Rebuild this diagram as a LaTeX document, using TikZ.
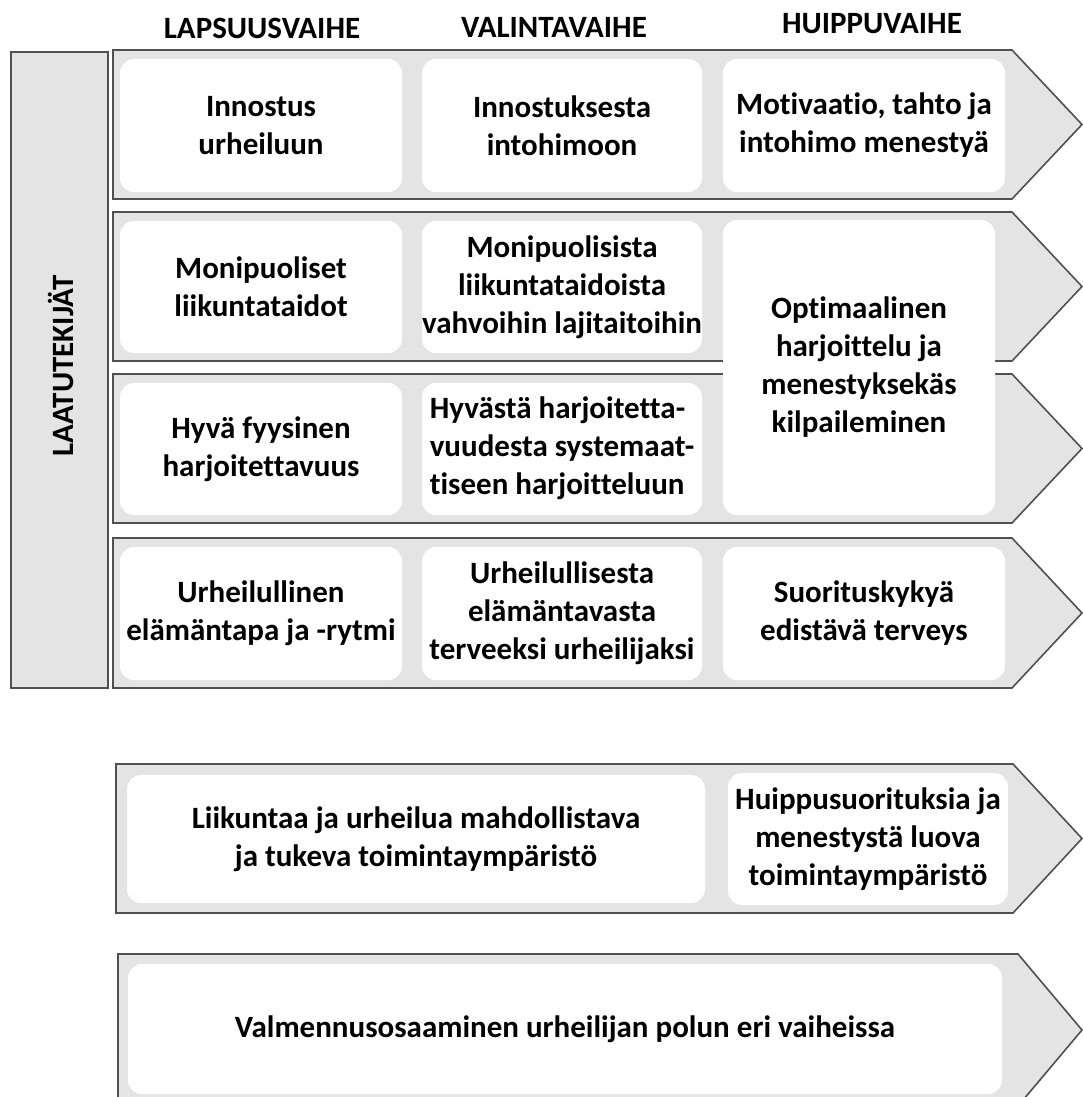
\documentclass[tikz,border=0pt]{standalone}
\usepackage{fontspec}
\setmainfont{Carlito}[Ligatures=NoCommon]
\usetikzlibrary{positioning}
\definecolor{bandgray}{RGB}{228,228,228}
\definecolor{edgegray}{RGB}{80,80,80}
\newcommand{\celltext}{\fontsize{31}{38}\selectfont\bfseries}
\newcommand{\headtext}{\fontsize{31}{36}\selectfont\bfseries}

\begin{document}
\begin{tikzpicture}[x=1pt,y=-1pt,
  band/.style={fill=bandgray,draw=edgegray,line width=1.6pt,line join=miter},
  cell/.style={fill=white,rounded corners=14pt,inner sep=0pt,align=center,font=\celltext},
  head/.style={font=\headtext}]
\useasboundingbox (0,0) rectangle (1083,1097);
\clip (0,0) rectangle (1083,1097);
\foreach \t/\b in {50/199,212/361,374/523,538/688}
  \draw[band] (113,\t)--(1012,\t)--(1082,{(\t+\b)/2})--(1012,\b)--(113,\b)--cycle;
\draw[band] (116,764)--(1013,764)--(1082,838.5)--(1013,913)--(116,913)--cycle;
\draw[band] (118,954)--(1018,954)--(1082,1030)--(1018,1106)--(118,1106)--cycle;
\draw[band] (11,52) rectangle (108,688);
\node[head] (lapsuus) at (262,28) {LAPSUUSVAIHE};
\node[head] (valinta) at (554,27) {VALINTAVAIHE};
\node[head] (huippu) at (872,24) {HUIPPUVAIHE};
\node[head,rotate=90] (laatu) at (61,366) {LAATUTEKIJÄT};
\node[cell,minimum width=282pt,minimum height=133pt] (c11) at (261,125.5) {Innostus\\urheiluun};
\node[cell,minimum width=280pt,minimum height=133pt] (c12) at (562,125.5) {Innostuksesta\\intohimoon};
\node[cell,minimum width=282pt,minimum height=133pt] (c13) at (864,125.5) {Motivaatio, tahto ja\\intohimo menestyä};
\node[cell,minimum width=282pt,minimum height=132pt] (c21) at (261,287) {Monipuoliset\\liikuntataidot};
\node[cell,minimum width=280pt,minimum height=132pt] (c22) at (562,287) {Monipuolisista\\liikuntataidoista\\vahvoihin lajitaitoihin};
\node[cell,minimum width=272pt,minimum height=295pt] (c23) at (859,367.5) {Optimaalinen\\harjoittelu ja\\menestyksekäs\\kilpaileminen};
\node[cell,minimum width=282pt,minimum height=132pt] (c31) at (261,449) {Hyvä fyysinen\\harjoitettavuus};
\node[cell,minimum width=280pt,minimum height=132pt] (c32) at (562,449) {\begin{tabular}{@{}l@{}}Hyvästä harjoitetta-\\vuudesta systemaat-\\tiseen harjoitteluun\end{tabular}};
\node[cell,minimum width=282pt,minimum height=133pt] (c41) at (261,613.5) {Urheilullinen\\elämäntapa ja -rytmi};
\node[cell,minimum width=280pt,minimum height=133pt] (c42) at (562,613.5) {Urheilullisesta\\elämäntavasta\\terveeksi urheilijaksi};
\node[cell,minimum width=282pt,minimum height=133pt] (c43) at (864,613.5) {Suorituskykyä\\edistävä terveys};
\node[cell,minimum width=578pt,minimum height=128pt] (ymp1) at (416,839) {Liikuntaa ja urheilua mahdollistava\\ja tukeva toimintaympäristö};
\node[cell,minimum width=280pt,minimum height=132pt] (ymp2) at (868,839) {Huippusuorituksia ja\\menestystä luova\\toimintaympäristö};
\node[cell,minimum width=874pt,minimum height=130pt] (valm) at (565,1029) {Valmennusosaaminen urheilijan polun eri vaiheissa};
\end{tikzpicture}
\end{document}
